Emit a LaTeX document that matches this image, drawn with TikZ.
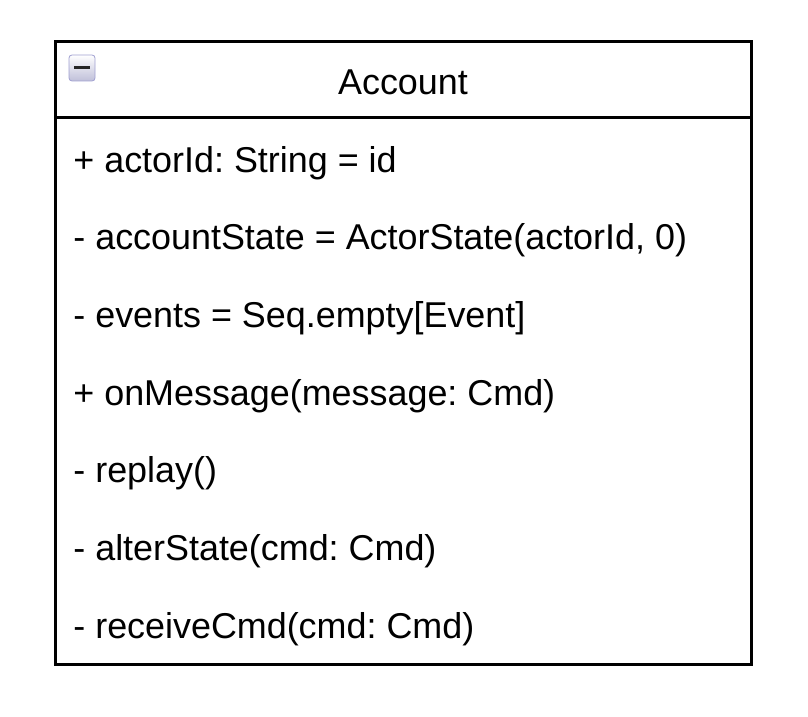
\documentclass[tikz,border=0pt]{standalone}
\usepackage{fontspec}
\setmainfont{Liberation Sans}
\usetikzlibrary{positioning}
\frenchspacing

\begin{document}
\begin{tikzpicture}[x=0.5pt,y=-0.5pt,
    member/.style={anchor=base west,inner sep=0pt,font=\fontsize{17.95}{21}\selectfont},
    frame/.style={line width=1.5pt}]
    \useasboundingbox (0,0) rectangle (808,717);
    % ---- Class box ----
    \draw[frame] (55,42) rectangle (751,664);
    \draw[frame] (55,118) -- (751,118);
    % ---- Collapse icon ----
    \shade[top color=white, bottom color=blue!25!gray!40, draw=blue!35!gray!55,
      rounded corners=1.5pt] (69,55) rectangle (95,81);
    \draw[line width=1.5pt, black!85] (74,68) -- (90,68);
    % ---- Title ----
    \node[anchor=base, inner sep=0pt, font=\fontsize{17.95}{21}\selectfont] (title) at (403,95) {Account};
    % ---- Members ----
    \node[member] (actorid) at (73,172) {+ actorId: String = id};
    \node[member] (state) at (73,249.7) {- accountState = ActorState(actorId, 0)};
    \node[member] (events) at (73,327.3) {- events = Seq.empty[Event]};
    \node[member] (onmsg) at (73,405) {+ onMessage(message: Cmd)};
    \node[member] (replay) at (73,482.7) {- replay()};
    \node[member] (alter) at (73,560.3) {- alterState(cmd: Cmd)};
    \node[member] (receive) at (73,638) {- receiveCmd(cmd: Cmd)};
\end{tikzpicture}
\end{document}
